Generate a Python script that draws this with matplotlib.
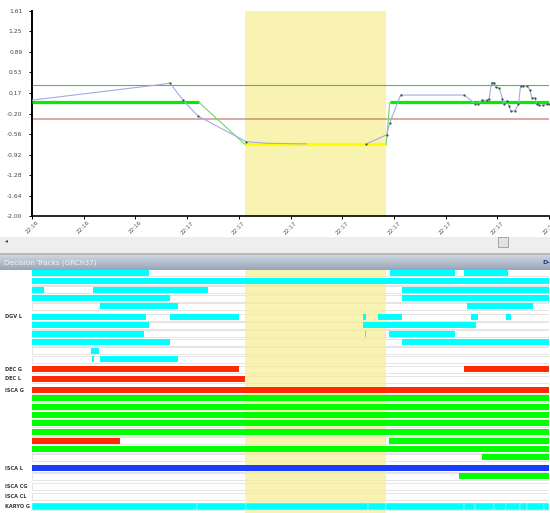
import matplotlib
matplotlib.use('Agg')
import matplotlib.pyplot as plt
from matplotlib.patches import Rectangle
import numpy as np

# ---------------- data ----------------
x_tick_labels = ['22:16', '22:16', '22:16', '22:17', '22:17', '22:17',
                 '22:17', '22:17', '22:17', '22:17', '22:17']
y_tick_labels = ['-2.00', '-1.64', '-1.28', '-0.92', '-0.56', '-0.20',
                 '0.17', '0.53', '0.89', '1.25', '1.61']

sig_x = [0, 2.44, 2.67, 2.92, 3.21, 4.14, 4.55, 5.31, np.nan, 6.47, 6.86, 6.92,
         7.13, 8.36, 8.57, 8.63, 8.70, 8.80, 8.84, 8.89, 8.94, 8.97, 9.04, 9.10,
         9.12, 9.18, 9.23, 9.26, 9.34, 9.41, 9.45, 9.49, 9.58, 9.63, 9.67, 9.73,
         9.76, 9.81, 9.89, 9.96, 10.0]
sig_y = [0.04, 0.31, 0.34, 0.04, -0.24, -0.69, -0.72, -0.73, np.nan, -0.73, -0.57,
         -0.36, 0.13, 0.13, -0.02, -0.03, 0.04, 0.04, 0.06, 0.35, 0.35, 0.27, 0.25,
         0.06, -0.03, 0.03, -0.06, -0.15, -0.15, -0.03, 0.29, 0.29, 0.29, 0.22,
         0.08, 0.08, -0.03, -0.05, -0.05, -0.03, -0.02]
sig_marked = [False, False, True, True, True, True, False, False, False, True, True,
              True, True, True, True, True, True, True, True, True, True, True, True,
              True, True, True, True, True, True, True, True, True, True, True, True,
              True, True, True, True, True, True]

seg_start = [0.0, 4.12, 6.92]
seg_end = [3.23, 6.85, 10.0]
seg_val = [0.0, -0.74, 0.0]
seg_kind = ['gain', 'loss', 'gain']

gain_threshold = 0.30
loss_threshold = -0.30
highlight = (4.12, 6.85)

# decision tracks: list of rows, each row a list of (start, end, colour key)
dgv_rows = [
    [(0, 2.27, 'c'), (6.92, 8.18, 'c'), (8.36, 9.21, 'c')],
    [(0, 10, 'c')],
    [(0, 0.23, 'c'), (1.18, 3.40, 'c'), (7.16, 10, 'c')],
    [(0, 2.66, 'c'), (7.16, 10, 'c')],
    [(1.32, 2.83, 'c'), (8.41, 9.70, 'c')],
    [(0, 2.21, 'c'), (2.67, 4.00, 'c'), (6.41, 6.47, 'c'), (6.70, 7.16, 'c'),
     (8.49, 8.63, 'c'), (9.16, 9.27, 'c')],
    [(0, 2.27, 'c'), (6.41, 8.58, 'c')],
    [(0, 2.17, 'c'), (6.44, 6.47, 'c'), (6.91, 8.18, 'c')],
    [(0, 2.66, 'c'), (7.16, 10, 'c')],
    [(1.15, 1.30, 'c')],
    [(1.16, 1.20, 'c'), (1.32, 2.83, 'c')],
]
dec_g_rows = [[(0, 4.00, 'r'), (8.36, 10, 'r')]]
dec_l_rows = [[(0, 4.12, 'r')]]
isca_g_rows = [
    [(0, 10, 'r')],
    [(0, 10, 'g')],
    [(0, 10, 'g')],
    [(0, 10, 'g')],
    [(0, 10, 'g')],
    [(0, 10, 'g')],
    [(0, 1.71, 'r'), (6.91, 10, 'g')],
    [(0, 10, 'g')],
    [(8.70, 10, 'g')],
]
isca_l_rows = [[(0, 10, 'b')], [(8.26, 10, 'g')]]
isca_cg_rows = [[]]
isca_cl_rows = [[]]
karyo_bounds = [0, 3.20, 4.13, 6.49, 6.85, 8.36, 8.57, 8.94, 9.17, 9.44, 9.57, 9.91, 10]
karyo_rows = [[(karyo_bounds[i], karyo_bounds[i + 1], 'c') for i in range(len(karyo_bounds) - 1)]]

track_groups = [('DGV L', dgv_rows, 5), ('DEC G', dec_g_rows, 0), ('DEC L', dec_l_rows, 0),
                ('ISCA G', isca_g_rows, 0), ('ISCA L', isca_l_rows, 0),
                ('ISCA CG', isca_cg_rows, 0), ('ISCA CL', isca_cl_rows, 0),
                ('KARYO G', karyo_rows, 0)]

# ---------------- layout ----------------
W, H = 550, 513
fig = plt.figure(figsize=(5.5, 5.13), dpi=100)
fig.patch.set_facecolor('white')

def fx(px):
    return px / W

def fy(py):
    return 1 - py / H

colors = {'c': '#00ffff', 'r': '#ff2a00', 'g': '#00ff00', 'b': '#1a3cff'}
hl_color = '#f8f3b0'

# ---------------- top chart ----------------
ax = fig.add_axes([fx(32), fy(216), fx(549) - fx(32), (216 - 11) / H])
ax.set_xlim(0, 10)
ax.set_ylim(-2.00, 1.61)
ax.axvspan(*highlight, color=hl_color, zorder=0, lw=0)
ax.axhline(gain_threshold, color='#58b858', lw=0.8, zorder=2)
ax.axhline(loss_threshold, color='#b04848', alpha=0.5, lw=1.3, zorder=2)

for i in range(len(seg_start)):
    c = '#00ee00' if seg_kind[i] == 'gain' else '#ffff00'
    ax.plot([seg_start[i], seg_end[i]], [seg_val[i], seg_val[i]], color=c,
            lw=2.3, solid_capstyle='butt', zorder=3)
    if i + 1 < len(seg_start):
        ax.plot([seg_end[i], seg_start[i + 1]], [seg_val[i], seg_val[i + 1]],
                color='#66dd66', lw=0.8, zorder=3)

ax.plot(sig_x, sig_y, color='#a8a8e4', lw=0.8, zorder=4)
mx = [x for x, m in zip(sig_x, sig_marked) if m]
my = [y for y, m in zip(sig_y, sig_marked) if m]
ax.plot(mx, my, 'o', ms=1.6, color='#2d5e2d', mew=0, zorder=5)

ax.set_yticks([float(v) for v in y_tick_labels])
ax.set_yticklabels(y_tick_labels)
ax.set_xticks(np.arange(len(x_tick_labels)))
ax.set_xticklabels(x_tick_labels, rotation=45, ha='center', va='top')
for s in ['top', 'right']:
    ax.spines[s].set_visible(False)
ax.spines['left'].set_linewidth(1.4)
ax.spines['bottom'].set_linewidth(1.2)
ax.tick_params(axis='y', length=2, width=0.7, labelsize=4.3, labelcolor='#444444', pad=5)
ax.tick_params(axis='x', length=2, width=0.7, labelsize=4.1, labelcolor='#555555', pad=1)
ax.set_facecolor('none')

# ---------------- scrollbar & header ----------------
fig.patches.append(Rectangle((0, fy(253)), 1, 16 / H, transform=fig.transFigure,
                             facecolor='#eeeeee', edgecolor='none', zorder=1))
fig.patches.append(Rectangle((0, fy(255)), 1, 2 / H, transform=fig.transFigure,
                             facecolor='#b4b9c2', edgecolor='none', zorder=1))
fig.patches.append(Rectangle((fx(498), fy(247)), 10 / W, 10 / H, transform=fig.transFigure,
                             facecolor='#e2e2e2', edgecolor='#9a9a9a', lw=0.6, zorder=2))
fig.text(fx(5), fy(241), '\u25c2', fontsize=4, color='#333333', ha='left', va='center')

axh = fig.add_axes([0, fy(270), 1, 15 / H])
grad = np.linspace(0, 1, 32).reshape(-1, 1)
top_c = np.array([0.82, 0.85, 0.89])
bot_c = np.array([0.60, 0.65, 0.72])
img = top_c[None, None, :] * (1 - grad[:, :, None]) + bot_c[None, None, :] * grad[:, :, None]
axh.imshow(img, aspect='auto', extent=[0, 1, 0, 1])
axh.set_axis_off()
fig.text(fx(4), fy(262.5), 'Decision Tracks (GRCh37)', fontsize=5.2, color='#f2f5fa',
         ha='left', va='center')
fig.text(fx(542), fy(262.5), 'D-G', fontsize=4.5, color='#1a3c8c', fontweight='bold',
         ha='left', va='center')

# ---------------- tracks ----------------
axt = fig.add_axes([fx(32), 0, fx(549) - fx(32), (513 - 270) / H])
axt.set_xlim(0, 10)
axt.set_ylim(513, 270)
axt.set_axis_off()

row_y = [272.7, 281, 289.7, 298, 306.3, 317, 325.3, 333.7, 342.3, 350.7, 359.3,
         369.3, 379,
         390, 398.3, 406.7, 415, 423.3, 432, 440.7, 449, 457.3,
         468, 476,
         486.7, 496.7, 506.7]

k = 0
for label, rows, label_row in track_groups:
    is_karyo = label == 'KARYO G'
    for j, row in enumerate(rows):
        y = row_y[k]
        axt.barh(y, 10, left=0, height=7, color='white', edgecolor='#e0e0e0',
                 lw=0.6, zorder=1)
        for s, e, c in row:
            axt.barh(y, e - s, left=s, height=7.2 if is_karyo else 6.2,
                     color=colors[c], edgecolor='#e8ffff' if is_karyo else 'none',
                     lw=0.3, zorder=4)
        if j == label_row:
            axt.text(-27 / 51.7, y, label, fontsize=3.6, fontweight='bold',
                     color='#333333', ha='left', va='center', clip_on=False)
        k += 1

axt.axvspan(*highlight, color='#f6ee9a', alpha=0.75, zorder=2, lw=0)

fig.savefig('out.png', dpi=100)
